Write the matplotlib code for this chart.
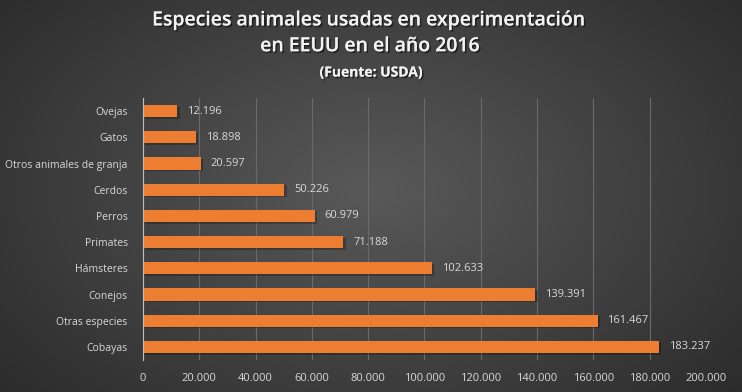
import matplotlib.pyplot as plt
import matplotlib.patheffects as pe
import numpy as np

species = ["Cobayas", "Otras especies", "Conejos", "Hámsteres", "Primates",
           "Perros", "Cerdos", "Otros animales de granja", "Gatos", "Ovejas"]
counts = [183237, 161467, 139391, 102633, 71188, 60979, 50226, 20597, 18898, 12196]
xticks = [0, 20000, 40000, 60000, 80000, 100000, 120000, 140000, 160000, 180000, 200000]

plt.rcParams['font.family'] = ['Open Sans', 'DejaVu Sans']

def fmt(v):
    return f"{v:,}".replace(",", ".")

fig = plt.figure(figsize=(7.42, 3.92), dpi=100)

# radial gradient background
bg = fig.add_axes([0, 0, 1, 1], zorder=-10)
yy, xx = np.mgrid[0:392, 0:742]
r = np.sqrt(((xx - 371) / 520) ** 2 + ((yy - 190) / 330) ** 2)
shade = 0.35 - 0.19 * np.clip(r, 0, 1)
bg.imshow(np.dstack([shade] * 3), aspect='auto', extent=[0, 1, 0, 1])
bg.axis('off')

ax = fig.add_axes([0.1927, 0.0816, 0.7588, 0.6684])
ax.patch.set_alpha(0)
y = np.arange(len(species))

# shadow then bar
ax.barh(y - 0.06, counts, height=0.46, left=800, color='black', alpha=0.25, zorder=2)
ax.barh(y, counts, height=0.46, color='#ED7D31', zorder=3)
for yi, v in zip(y, counts):
    ax.text(v + 3500, yi, fmt(v), va='center', ha='left', color='#d9d9d9', fontsize=8)

ax.set_xlim(0, 200000)
ax.set_ylim(-0.5, len(species) - 0.5)
ax.set_xticks(xticks, labels=[fmt(t) for t in xticks])
ax.set_yticks(y, labels=species)
ax.tick_params(axis='both', length=0, colors='#d9d9d9', labelsize=8)
ax.tick_params(axis='y', labelsize=7.5, pad=11)
ax.tick_params(axis='x', pad=9)
ax.grid(axis='x', color='#6a6a6a', linewidth=0.8, zorder=0)
ax.set_axisbelow(True)
for s in ['top', 'right', 'bottom']:
    ax.spines[s].set_visible(False)
ax.spines['left'].set_color('#bfbfbf')
ax.spines['left'].set_zorder(4)

shadow = [pe.withSimplePatchShadow(offset=(1.2, -1.2), shadow_rgbFace='black', alpha=0.5), pe.Normal()]
fig.text(0.5, 0.948, "Especies animales usadas en experimentación", ha='center', va='center',
         color='#f2f2f2', fontsize=14, fontweight='semibold', path_effects=shadow)
fig.text(0.5, 0.882, "en EEUU en el año 2016", ha='center', va='center',
         color='#f2f2f2', fontsize=14, fontweight='semibold', path_effects=shadow)
fig.text(0.5, 0.815, "(Fuente: USDA)", ha='center', va='center',
         color='#f2f2f2', fontsize=10, fontweight='bold', path_effects=shadow)

fig.savefig("out.png", dpi=100)
